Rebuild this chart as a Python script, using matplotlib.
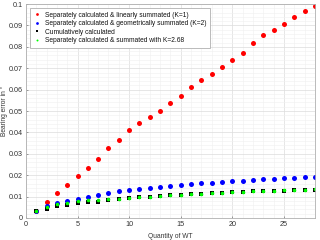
import matplotlib
matplotlib.use("Agg")
import matplotlib.pyplot as plt
import numpy as np
from matplotlib.ticker import MultipleLocator, FuncFormatter

# quantity of wind turbines
n_wt = np.arange(1, 29)

# bearing error
linear_k1 = [0.0033, 0.0073, 0.0115, 0.0156, 0.0197, 0.0234, 0.0277, 0.0325, 0.0366, 0.0410,
             0.0442, 0.0473, 0.0501, 0.0536, 0.0572, 0.0614, 0.0645, 0.0673, 0.0704, 0.0738,
             0.0773, 0.0816, 0.0855, 0.0879, 0.0908, 0.0939, 0.0966, 0.0992]
geom_k2 = [0.0033, 0.0056, 0.0072, 0.0079, 0.0089, 0.0098, 0.0107, 0.0115, 0.0125, 0.0131,
           0.0136, 0.0139, 0.0143, 0.0148, 0.0153, 0.0160, 0.0164, 0.0165, 0.0168, 0.0171,
           0.0173, 0.0179, 0.0181, 0.0184, 0.0185, 0.0188, 0.0192, 0.0193]
cumulative = [0.0033, 0.0043, 0.0056, 0.0062, 0.0069, 0.0073, 0.0076, 0.0083, 0.0087, 0.0093,
              0.0096, 0.0099, 0.0102, 0.0105, 0.0108, 0.0111, 0.0113, 0.0116, 0.0117, 0.0119,
              0.0120, 0.0124, 0.0125, 0.0127, 0.0128, 0.0130, 0.0131, 0.0132]
k268 = [0.0033, 0.0050, 0.0064, 0.0070, 0.0078, 0.0083, 0.0084, 0.0087, 0.0089, 0.0095,
        0.0097, 0.0100, 0.0103, 0.0106, 0.0109, 0.0112, 0.0114, 0.0117, 0.0118, 0.0120,
        0.0121, 0.0125, 0.0126, 0.0128, 0.0129, 0.0131, 0.0132, 0.0133]

labels = ["Separately calculated & linearly summated (K=1)",
          "Separately calculated & geometrically summated (K=2)",
          "Cumulatively calculated",
          "Separately calculated & summated with K=2.68"]

plt.rcParams["font.family"] = ["Liberation Sans", "DejaVu Sans"]
fs = 4.8

fig = plt.figure(figsize=(3.2, 2.4), dpi=100)
ax = fig.add_axes([0.081, 0.092, 0.903, 0.891])

ax.plot(n_wt, linear_k1, "o", color="#ff0000", ms=3.6, mew=0, label=labels[0])
ax.plot(n_wt, geom_k2, "o", color="#0000ff", ms=3.6, mew=0, label=labels[1])
ax.plot(n_wt, cumulative, "s", color="#000000", ms=2.8, mew=0, label=labels[2])
ax.plot(n_wt, k268, "o", color="#00ff00", ms=2.6, mew=0, label=labels[3])

ax.set_xlim(0, 28)
ax.set_ylim(0, 0.1)
ax.xaxis.set_major_locator(MultipleLocator(5))
ax.xaxis.set_minor_locator(MultipleLocator(1))
ax.yaxis.set_major_locator(MultipleLocator(0.01))
ax.yaxis.set_minor_locator(MultipleLocator(0.002))
ax.yaxis.set_major_formatter(FuncFormatter(lambda v, p: "%g" % round(v, 3)))

ax.grid(which="major", color="#dcdcdc", lw=0.5)
ax.grid(which="minor", color="#f0f0f0", lw=0.4)
ax.set_axisbelow(True)
for s in ax.spines.values():
    s.set_color("#b0b0b0")
    s.set_linewidth(0.6)
ax.tick_params(which="major", direction="in", length=1.5, width=0.5, color="#777777",
               labelsize=5.2, labelcolor="#333333", pad=2.5)
ax.tick_params(which="minor", length=0)

ax.set_xlabel("Quantity of WT", fontsize=fs, color="#333333", labelpad=3)
ax.set_ylabel("Bearing error in °", fontsize=fs, color="#333333")
ax.yaxis.set_label_coords(-0.062, 0.5)

leg = ax.legend(loc="upper left", fontsize=fs, markerscale=0.55, handlelength=1.2,
                handletextpad=0.6, labelspacing=0.22, borderpad=0.5, fancybox=False,
                framealpha=1, edgecolor="#b0b0b0", bbox_to_anchor=(0.003, 0.995))
leg.get_frame().set_linewidth(0.6)
for t in leg.get_texts():
    t.set_color("#111111")

plt.savefig("out.png", dpi=100)
